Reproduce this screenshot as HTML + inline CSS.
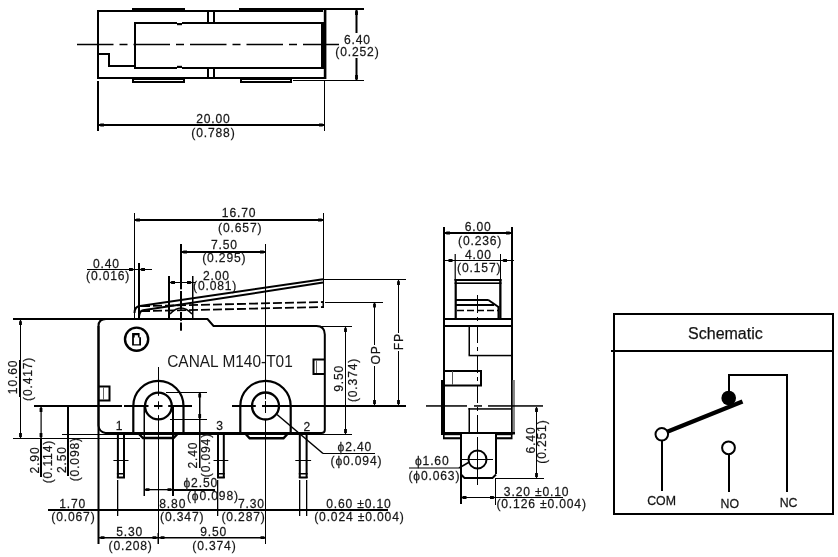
<!DOCTYPE html>
<html><head><meta charset="utf-8"><title>Switch drawing</title>
<style>
html,body{margin:0;padding:0;background:#fff;}
body{width:838px;height:557px;overflow:hidden;}
svg{display:block;filter:grayscale(1);}
text{font-family:"Liberation Sans",sans-serif;stroke:#222;stroke-width:0.25px;}
</style></head>
<body>
<svg width="838" height="557" viewBox="0 0 838 557">
<rect width="838" height="557" fill="#fff"/>
<rect x="97" y="10" width="2" height="69" fill="#000"/>
<rect x="97" y="10" width="225" height="2" fill="#000"/>
<rect x="132" y="8" width="53" height="4" fill="#000"/>
<rect x="239" y="8" width="84" height="4" fill="#000"/>
<rect x="322" y="8" width="42" height="2" fill="#000"/>
<rect x="97" y="77" width="229" height="2" fill="#000"/>
<rect x="323.8" y="8" width="2.6" height="71" fill="#000"/>
<rect x="321" y="22" width="3" height="47" fill="#000"/>
<rect x="134" y="22" width="2" height="47" fill="#000"/>
<rect x="134" y="22" width="187" height="2" fill="#000"/>
<rect x="134" y="67" width="187" height="2" fill="#000"/>
<rect x="97" y="53" width="13" height="2" fill="#000"/>
<rect x="108" y="53" width="2" height="14" fill="#000"/>
<rect x="108" y="65" width="27" height="2" fill="#000"/>
<rect x="207" y="12" width="2" height="10" fill="#000"/>
<rect x="207" y="69" width="2" height="8" fill="#000"/>
<rect x="213" y="12" width="2" height="10" fill="#000"/>
<rect x="213" y="69" width="2" height="8" fill="#000"/>
<rect x="177" y="22" width="5" height="1" fill="#fff"/>
<rect x="177" y="24" width="5" height="1.2" fill="#000"/>
<rect x="177" y="68" width="5" height="1" fill="#fff"/>
<rect x="177" y="65.8" width="5" height="1.2" fill="#000"/>
<rect x="132" y="79" width="53" height="4" fill="#000"/>
<rect x="134" y="80" width="49" height="1" fill="#fff"/>
<rect x="240" y="79" width="52" height="4" fill="#000"/>
<rect x="242" y="80" width="48" height="1" fill="#fff"/>
<rect x="293" y="80" width="71" height="1" fill="#000"/>
<line x1="77" y1="44.5" x2="339" y2="44.5" stroke="#000" stroke-width="1.3" stroke-linecap="butt" stroke-dasharray="36.5 6 8 6"/>
<rect x="355.5" y="10" width="2" height="23" fill="#000"/>
<rect x="355.5" y="58" width="2" height="22" fill="#000"/>
<polygon points="356.5,10 355.1,11.5 355.1,15 357.9,15 357.9,11.5" fill="#000"/>
<polygon points="356.5,80 355.1,78.5 355.1,75 357.9,75 357.9,78.5" fill="#000"/>
<text transform="translate(357.42 44.3) scale(0.89 1)" font-size="13.6" text-anchor="middle" fill="#111" letter-spacing="0.95">6.40</text>
<text transform="translate(357.42 55.9) scale(0.89 1)" font-size="13.6" text-anchor="middle" fill="#111" letter-spacing="0.95">(0.252)</text>
<rect x="97" y="81" width="2" height="50" fill="#000"/>
<rect x="324" y="81" width="1" height="50" fill="#000"/>
<rect x="97" y="124" width="228" height="2" fill="#000"/>
<polygon points="99,125 100.5,123.6 104,123.6 104,126.4 100.5,126.4" fill="#000"/>
<polygon points="324,125 322.5,123.6 319,123.6 319,126.4 322.5,126.4" fill="#000"/>
<text transform="translate(213.42 122.6) scale(0.89 1)" font-size="13.6" text-anchor="middle" fill="#111" letter-spacing="0.95">20.00</text>
<text transform="translate(213.42 137) scale(0.89 1)" font-size="13.6" text-anchor="middle" fill="#111" letter-spacing="0.95">(0.788)</text>
<rect x="134" y="213" width="1" height="105" fill="#000"/>
<rect x="323" y="213" width="1" height="95" fill="#000"/>
<rect x="134" y="219" width="190" height="2" fill="#000"/>
<polygon points="135,220 136.5,218.6 140,218.6 140,221.4 136.5,221.4" fill="#000"/>
<polygon points="323,220 321.5,218.6 318,218.6 318,221.4 321.5,221.4" fill="#000"/>
<text transform="translate(239.12 217) scale(0.89 1)" font-size="13.6" text-anchor="middle" fill="#111" letter-spacing="0.95">16.70</text>
<text transform="translate(240.22 231.5) scale(0.89 1)" font-size="13.6" text-anchor="middle" fill="#111" letter-spacing="0.95">(0.657)</text>
<rect x="180" y="244" width="2" height="45.3" fill="#000"/>
<rect x="180" y="291" width="2" height="18.7" fill="#000"/>
<rect x="180" y="312" width="2" height="8.8" fill="#000"/>
<rect x="180" y="322.5" width="2" height="8.2" fill="#000"/>
<rect x="181" y="251" width="85" height="2" fill="#000"/>
<polygon points="182,252 183.5,250.6 187,250.6 187,253.4 183.5,253.4" fill="#000"/>
<polygon points="265,252 263.5,250.6 260,250.6 260,253.4 263.5,253.4" fill="#000"/>
<text transform="translate(224.42 249.3) scale(0.89 1)" font-size="13.6" text-anchor="middle" fill="#111" letter-spacing="0.95">7.50</text>
<text transform="translate(224.32 262.2) scale(0.89 1)" font-size="13.6" text-anchor="middle" fill="#111" letter-spacing="0.95">(0.295)</text>
<rect x="87" y="269" width="65" height="1" fill="#000"/>
<rect x="138" y="263" width="2" height="55" fill="#000"/>
<polygon points="134,269.5 132.5,268.1 129,268.1 129,270.9 132.5,270.9" fill="#000"/>
<polygon points="140,269.5 141.5,268.1 145,268.1 145,270.9 141.5,270.9" fill="#000"/>
<text transform="translate(106.42 267.5) scale(0.89 1)" font-size="13.6" text-anchor="middle" fill="#111" letter-spacing="0.95">0.40</text>
<text transform="translate(108.12 279.9) scale(0.89 1)" font-size="13.6" text-anchor="middle" fill="#111" letter-spacing="0.95">(0.016)</text>
<rect x="169" y="282" width="27" height="1" fill="#000"/>
<rect x="168" y="276" width="2" height="42" fill="#000"/>
<rect x="192" y="276" width="1.5" height="42" fill="#000"/>
<polygon points="170,282.5 171.5,281.1 175,281.1 175,283.9 171.5,283.9" fill="#000"/>
<polygon points="192,282.5 190.5,281.1 187,281.1 187,283.9 190.5,283.9" fill="#000"/>
<text transform="translate(216.42 279.5) scale(0.89 1)" font-size="13.6" text-anchor="middle" fill="#111" letter-spacing="0.95">2.00</text>
<text transform="translate(215.12 290.3) scale(0.89 1)" font-size="13.6" text-anchor="middle" fill="#111" letter-spacing="0.95">(0.081)</text>
<path d="M170,314 Q181,302 192,314" stroke="#000" stroke-width="1.6" fill="none" />
<path d="M134.5,313 Q134.5,306.5 140,305.9 L323,279.3" stroke="#000" stroke-width="2" fill="none" />
<path d="M139,317 Q139.5,311 143,310.3 L323,282.6" stroke="#000" stroke-width="2" fill="none" />
<line x1="141" y1="306.2" x2="323" y2="302" stroke="#000" stroke-width="1.8" stroke-linecap="butt" stroke-dasharray="9 3"/>
<line x1="141" y1="311.2" x2="323" y2="307" stroke="#000" stroke-width="1.8" stroke-linecap="butt" stroke-dasharray="9 3"/>
<rect x="322.5" y="301" width="1.5" height="7" fill="#000"/>
<rect x="324" y="279" width="82" height="1" fill="#000"/>
<rect x="398" y="280" width="1" height="53" fill="#000"/>
<rect x="398" y="351" width="1" height="54" fill="#000"/>
<polygon points="398.5,280 397.1,281.5 397.1,285 399.9,285 399.9,281.5" fill="#000"/>
<polygon points="398.5,405 397.1,403.5 397.1,400 399.9,400 399.9,403.5" fill="#000"/>
<text transform="translate(403.1 341.58) rotate(-90) scale(0.89 1)" font-size="13.6" text-anchor="middle" fill="#111" letter-spacing="0.95">FP</text>
<rect x="325" y="302" width="58" height="1" fill="#000"/>
<rect x="374" y="302" width="1" height="43" fill="#000"/>
<rect x="374" y="366" width="1" height="39" fill="#000"/>
<polygon points="374.5,302.5 373.1,304 373.1,307.5 375.9,307.5 375.9,304" fill="#000"/>
<polygon points="374.5,405 373.1,403.5 373.1,400 375.9,400 375.9,403.5" fill="#000"/>
<text transform="translate(379.7 354.98) rotate(-90) scale(0.89 1)" font-size="13.6" text-anchor="middle" fill="#111" letter-spacing="0.95">OP</text>
<rect x="316" y="326" width="36" height="1" fill="#000"/>
<rect x="345" y="327" width="1" height="107" fill="#000"/>
<polygon points="345.5,327 344.1,328.5 344.1,332 346.9,332 346.9,328.5" fill="#000"/>
<polygon points="345.5,434 344.1,432.5 344.1,429 346.9,429 346.9,432.5" fill="#000"/>
<rect x="324" y="434" width="28" height="1" fill="#000"/>
<text transform="translate(343.3 378.38) rotate(-90) scale(0.89 1)" font-size="13.6" text-anchor="middle" fill="#111" letter-spacing="0.95">9.50</text>
<text transform="translate(356.7 379.98) rotate(-90) scale(0.89 1)" font-size="13.6" text-anchor="middle" fill="#111" letter-spacing="0.95">(0.374)</text>
<rect x="13" y="318" width="93" height="2" fill="#000"/>
<rect x="20" y="319" width="1" height="119" fill="#000"/>
<rect x="19" y="360" width="2" height="37" fill="#000"/>
<polygon points="20.5,320 19.1,321.5 19.1,325 21.9,325 21.9,321.5" fill="#000"/>
<polygon points="20.5,438 19.1,436.5 19.1,433 21.9,433 21.9,436.5" fill="#000"/>
<rect x="13" y="438" width="127" height="1" fill="#000"/>
<text transform="translate(16.7 376.88) rotate(-90) scale(0.89 1)" font-size="13.6" text-anchor="middle" fill="#111" letter-spacing="0.95">10.60</text>
<text transform="translate(32.4 378.88) rotate(-90) scale(0.89 1)" font-size="13.6" text-anchor="middle" fill="#111" letter-spacing="0.95">(0.417)</text>
<rect x="40.5" y="406" width="1.2" height="32" fill="#000"/>
<rect x="40" y="438" width="2" height="39" fill="#000"/>
<polygon points="41,407 39.6,408.5 39.6,412 42.4,412 42.4,408.5" fill="#000"/>
<polygon points="41,438 39.6,436.5 39.6,433 42.4,433 42.4,436.5" fill="#000"/>
<rect x="67" y="406" width="2" height="70" fill="#000"/>
<text transform="translate(38.5 459.98) rotate(-90) scale(0.89 1)" font-size="13.6" text-anchor="middle" fill="#111" letter-spacing="0.95">2.90</text>
<text transform="translate(51.8 461.58) rotate(-90) scale(0.89 1)" font-size="13.6" text-anchor="middle" fill="#111" letter-spacing="0.95">(0.114)</text>
<text transform="translate(65.9 459.58) rotate(-90) scale(0.89 1)" font-size="13.6" text-anchor="middle" fill="#111" letter-spacing="0.95">2.50</text>
<text transform="translate(79.2 459.18) rotate(-90) scale(0.89 1)" font-size="13.6" text-anchor="middle" fill="#111" letter-spacing="0.95">(0.098)</text>
<rect x="62" y="434" width="290" height="1" fill="#000"/>
<path d="M98.5,326 Q98.5,319 106,319 L207.5,319 L213.5,326 L316.5,326 Q324.8,326 324.8,334.5 L324.8,430 Q324.8,433 321.5,433 L105.5,433 Q99,432 98.5,425.5 Z" stroke="#000" stroke-width="2" fill="none" />
<rect x="97.5" y="326" width="2" height="218" fill="#000"/>
<path d="M98.5,386.5 L109.5,386.5 L109.5,400.5 L98.5,400.5" stroke="#000" stroke-width="2" fill="none" />
<rect x="103" y="387" width="1" height="13" fill="#666"/>
<path d="M324.5,359.5 L313.5,359.5 L313.5,374 L324.5,374" stroke="#000" stroke-width="2" fill="none" />
<rect x="316" y="360" width="1" height="13" fill="#666"/>
<circle cx="136.6" cy="339.2" r="11.6" stroke="#000" stroke-width="2.4" fill="none"/>
<path d="M132.1,332.9 L139.6,332.9 L139.6,337.3 L141,337.3 L141,345.6 L132.1,345.6 Z" fill="#000"/>
<path d="M134.7,335.2 L137.9,335.2 L137.9,337.6 L139.2,337.6 L139.2,344.3 L133.9,344.3 L133.9,337.6 L134.7,337.6 Z" fill="#fff"/>
<text transform="translate(230 367) scale(0.99 1)" font-size="15.6" text-anchor="middle" fill="#1a1a1a" style="stroke-width:0px">CANAL M140-T01</text>
<path d="M133.3,433 L133.3,406 A25.1,25.1 0 0 1 183.5,406 L183.5,433" stroke="#000" stroke-width="2.2" fill="none" />
<circle cx="158.4" cy="406" r="13.4" stroke="#000" stroke-width="2.3" fill="#fff"/>
<path d="M240.3,433 L240.3,406 A25.2,25.2 0 0 1 290.7,406 L290.7,433" stroke="#000" stroke-width="2.2" fill="none" />
<circle cx="265.5" cy="406" r="13.5" stroke="#000" stroke-width="2.3" fill="#fff"/>
<rect x="34" y="405" width="88" height="2" fill="#000"/>
<rect x="124" y="405" width="24.5" height="2" fill="#000"/>
<rect x="154" y="405" width="8.5" height="2" fill="#000"/>
<rect x="168.2" y="405" width="23.8" height="2" fill="#000"/>
<rect x="232" y="405" width="23.8" height="2" fill="#000"/>
<rect x="262" y="405" width="144" height="2" fill="#000"/>
<rect x="158" y="367" width="1" height="28.8" fill="#000"/>
<rect x="158" y="401.3" width="1" height="8" fill="#000"/>
<rect x="158" y="415.1" width="1" height="128.9" fill="#000"/>
<rect x="265" y="244" width="1" height="155.3" fill="#000"/>
<rect x="265" y="401" width="1" height="12" fill="#000"/>
<rect x="265" y="419" width="1" height="125" fill="#000"/>
<rect x="143.5" y="406" width="1.5" height="90" fill="#000"/>
<rect x="172" y="406" width="2" height="90" fill="#000"/>
<path d="M138,433 L143,438 L173.5,438 L178.5,433" stroke="#000" stroke-width="2.4" fill="none" />
<path d="M244.8,433 L249.6,438.3 L283.5,438.3 L288.4,433" stroke="#000" stroke-width="2.4" fill="none" />
<rect x="116.9" y="435" width="2" height="43" fill="#000"/>
<rect x="123" y="435" width="2" height="43" fill="#000"/>
<rect x="116.9" y="476.5" width="8.1" height="2" fill="#000"/>
<rect x="116.9" y="473" width="8.1" height="1.5" fill="#000"/>
<rect x="113.4" y="460" width="15.1" height="1" fill="#000"/>
<rect x="117" y="480" width="1.3" height="36" fill="#000"/>
<rect x="217" y="435" width="2" height="43" fill="#000"/>
<rect x="222.8" y="435" width="2" height="43" fill="#000"/>
<rect x="217" y="476.5" width="7.8" height="2" fill="#000"/>
<rect x="217" y="473" width="7.8" height="1.5" fill="#000"/>
<rect x="213.5" y="460" width="14.8" height="1" fill="#000"/>
<rect x="217" y="480" width="1.3" height="36" fill="#000"/>
<rect x="298.8" y="435" width="2" height="43" fill="#000"/>
<rect x="305.6" y="435" width="2" height="43" fill="#000"/>
<rect x="298.8" y="476.5" width="8.8" height="2" fill="#000"/>
<rect x="298.8" y="473" width="8.8" height="1.5" fill="#000"/>
<rect x="295.3" y="460" width="15.8" height="1" fill="#000"/>
<rect x="299" y="480" width="1.3" height="36" fill="#000"/>
<rect x="306" y="480" width="1.3" height="36" fill="#000"/>
<text transform="translate(119.62 430.4) scale(0.89 1)" font-size="13.6" text-anchor="middle" fill="#111" letter-spacing="0.95">1</text>
<text transform="translate(219.92 430.1) scale(0.89 1)" font-size="13.6" text-anchor="middle" fill="#111" letter-spacing="0.95">3</text>
<text transform="translate(307.22 430.5) scale(0.89 1)" font-size="13.6" text-anchor="middle" fill="#111" letter-spacing="0.95">2</text>
<rect x="166" y="392" width="41" height="1" fill="#000"/>
<rect x="170" y="419" width="37" height="1" fill="#000"/>
<rect x="199" y="392" width="1.5" height="76" fill="#000"/>
<polygon points="199.7,392.5 198.3,394 198.3,397.5 201.1,397.5 201.1,394" fill="#000"/>
<polygon points="199.7,419 198.3,417.5 198.3,414 201.1,414 201.1,417.5" fill="#000"/>
<text transform="translate(197.3 455.08) rotate(-90) scale(0.89 1)" font-size="13.6" text-anchor="middle" fill="#111" letter-spacing="0.95">2.40</text>
<text transform="translate(209.8 455.08) rotate(-90) scale(0.89 1)" font-size="13.6" text-anchor="middle" fill="#111" letter-spacing="0.95">(0.094)</text>
<rect x="144" y="489" width="28" height="1.3" fill="#000"/>
<rect x="172" y="489" width="43" height="2" fill="#000"/>
<polygon points="144.5,489.7 146,488.3 149.5,488.3 149.5,491.1 146,491.1" fill="#000"/>
<polygon points="172.5,489.7 171,488.3 167.5,488.3 167.5,491.1 171,491.1" fill="#000"/>
<text transform="translate(183.5 486.5) scale(0.89 1)" font-size="13.6" text-anchor="start" fill="#111" letter-spacing="0.95">ϕ2.50</text>
<text transform="translate(187 499.5) scale(0.89 1)" font-size="13.6" text-anchor="start" fill="#111" letter-spacing="0.95">(ϕ0.098)</text>
<line x1="277" y1="414.5" x2="323" y2="453.5" stroke="#000" stroke-width="1.5" stroke-linecap="butt"/>
<rect x="323" y="453" width="52" height="1" fill="#000"/>
<text transform="translate(354.82 450.6) scale(0.89 1)" font-size="13.6" text-anchor="middle" fill="#111" letter-spacing="0.95">ϕ2.40</text>
<text transform="translate(356.42 464.5) scale(0.89 1)" font-size="13.6" text-anchor="middle" fill="#111" letter-spacing="0.95">(ϕ0.094)</text>
<rect x="48" y="509" width="340" height="2" fill="#000"/>
<text transform="translate(72.62 507.5) scale(0.89 1)" font-size="13.6" text-anchor="middle" fill="#111" letter-spacing="0.95">1.70</text>
<text transform="translate(73.42 520.6) scale(0.89 1)" font-size="13.6" text-anchor="middle" fill="#111" letter-spacing="0.95">(0.067)</text>
<text transform="translate(159.3 508) scale(0.89 1)" font-size="13.6" text-anchor="start" fill="#111" letter-spacing="0.95">8.80</text>
<text transform="translate(160.1 520.6) scale(0.89 1)" font-size="13.6" text-anchor="start" fill="#111" letter-spacing="0.95">(0.347)</text>
<text transform="translate(264.85 507.5) scale(0.89 1)" font-size="13.6" text-anchor="end" fill="#111" letter-spacing="0.95">7.30</text>
<text transform="translate(265.65 520.6) scale(0.89 1)" font-size="13.6" text-anchor="end" fill="#111" letter-spacing="0.95">(0.287)</text>
<text transform="translate(358.92 507.5) scale(0.89 1)" font-size="13.6" text-anchor="middle" fill="#111" letter-spacing="0.95">0.60 ±0.10</text>
<text transform="translate(359.42 521.1) scale(0.89 1)" font-size="13.6" text-anchor="middle" fill="#111" letter-spacing="0.95">(0.024 ±0.004)</text>
<rect x="98" y="537" width="168" height="1.5" fill="#000"/>
<rect x="157.5" y="533" width="1.5" height="11" fill="#000"/>
<polygon points="99.5,537.7 101,536.3 104.5,536.3 104.5,539.1 101,539.1" fill="#000"/>
<polygon points="157.5,537.7 156,536.3 152.5,536.3 152.5,539.1 156,539.1" fill="#000"/>
<polygon points="159.5,537.7 161,536.3 164.5,536.3 164.5,539.1 161,539.1" fill="#000"/>
<polygon points="265.5,537.7 264,536.3 260.5,536.3 260.5,539.1 264,539.1" fill="#000"/>
<text transform="translate(129.62 535.6) scale(0.89 1)" font-size="13.6" text-anchor="middle" fill="#111" letter-spacing="0.95">5.30</text>
<text transform="translate(130.62 550.1) scale(0.89 1)" font-size="13.6" text-anchor="middle" fill="#111" letter-spacing="0.95">(0.208)</text>
<text transform="translate(213.62 535.6) scale(0.89 1)" font-size="13.6" text-anchor="middle" fill="#111" letter-spacing="0.95">9.50</text>
<text transform="translate(214.42 550.1) scale(0.89 1)" font-size="13.6" text-anchor="middle" fill="#111" letter-spacing="0.95">(0.374)</text>
<rect x="443" y="227" width="2" height="207" fill="#000"/>
<rect x="511" y="227" width="2" height="207" fill="#000"/>
<rect x="441" y="380" width="4" height="55" fill="#000"/>
<rect x="512" y="380" width="3" height="55" fill="#888"/>
<rect x="511" y="380" width="1.5" height="55" fill="#000"/>
<rect x="443" y="232" width="70" height="2" fill="#000"/>
<polygon points="445,233 446.5,231.6 450,231.6 450,234.4 446.5,234.4" fill="#000"/>
<polygon points="511,233 509.5,231.6 506,231.6 506,234.4 509.5,234.4" fill="#000"/>
<text transform="translate(478.22 231) scale(0.89 1)" font-size="13.6" text-anchor="middle" fill="#111" letter-spacing="0.95">6.00</text>
<text transform="translate(480.12 244.5) scale(0.89 1)" font-size="13.6" text-anchor="middle" fill="#111" letter-spacing="0.95">(0.236)</text>
<rect x="454.6" y="254" width="1.2" height="26" fill="#000"/>
<rect x="500" y="254" width="1" height="26" fill="#000"/>
<rect x="444" y="260" width="70" height="1" fill="#000"/>
<polygon points="453.5,260.5 452,259.1 448.5,259.1 448.5,261.9 452,261.9" fill="#000"/>
<polygon points="502,260.5 503.5,259.1 507,259.1 507,261.9 503.5,261.9" fill="#000"/>
<text transform="translate(478.42 259) scale(0.89 1)" font-size="13.6" text-anchor="middle" fill="#111" letter-spacing="0.95">4.00</text>
<text transform="translate(479.22 271.9) scale(0.89 1)" font-size="13.6" text-anchor="middle" fill="#111" letter-spacing="0.95">(0.157)</text>
<rect x="454.6" y="279" width="2.2" height="40" fill="#000"/>
<rect x="499.2" y="279" width="2.3" height="40" fill="#000"/>
<rect x="454.6" y="279" width="46.9" height="2" fill="#000"/>
<rect x="454.6" y="282.4" width="46.9" height="1.6" fill="#000"/>
<rect x="456" y="299" width="32" height="2" fill="#000"/>
<line x1="488" y1="299.8" x2="498.5" y2="307" stroke="#000" stroke-width="2" stroke-linecap="butt"/>
<rect x="456" y="304" width="38" height="2" fill="#000"/>
<rect x="497.5" y="306" width="2" height="12" fill="#000"/>
<line x1="457" y1="310.5" x2="498" y2="310.5" stroke="#000" stroke-width="1.5" stroke-linecap="butt" stroke-dasharray="7 3"/>
<rect x="443" y="318" width="70" height="2" fill="#000"/>
<rect x="443" y="325" width="70" height="2" fill="#000"/>
<line x1="477.5" y1="295" x2="477.5" y2="485" stroke="#000" stroke-width="1" stroke-linecap="butt" stroke-dasharray="18 4 4 4"/>
<rect x="468.5" y="327" width="1.5" height="28" fill="#000"/>
<rect x="468.5" y="354.8" width="42.5" height="1.5" fill="#000"/>
<path d="M444,371 L481,371 L481,385.5 L444,385.5" stroke="#000" stroke-width="2" fill="none" />
<rect x="452" y="371" width="1" height="14" fill="#555"/>
<rect x="426" y="405.2" width="41" height="1.5" fill="#000"/>
<rect x="474" y="405.2" width="8" height="1.5" fill="#000"/>
<rect x="488" y="405.2" width="55" height="1.5" fill="#000"/>
<rect x="468.5" y="408" width="1.5" height="25" fill="#000"/>
<rect x="468.5" y="408.2" width="42.5" height="1.5" fill="#000"/>
<rect x="441" y="432" width="74" height="2" fill="#000"/>
<rect x="443" y="434" width="17" height="5.3" fill="#000"/>
<rect x="444.6" y="435.2" width="15.4" height="2" fill="#fff"/>
<rect x="495.5" y="434" width="17" height="5.3" fill="#000"/>
<rect x="496.5" y="435.2" width="14.4" height="2" fill="#fff"/>
<rect x="460" y="433" width="2" height="71" fill="#000"/>
<rect x="495" y="433" width="2" height="41" fill="#000"/>
<path d="M461,474.5 L464.5,478 L492.5,478 L496,474.5" stroke="#000" stroke-width="2" fill="none" />
<circle cx="477.5" cy="459.5" r="9" stroke="#000" stroke-width="2" fill="none"/>
<rect x="477" y="440" width="1" height="44" fill="#000"/>
<rect x="462" y="459" width="31" height="1" fill="#000"/>
<rect x="409" y="467.5" width="50" height="1" fill="#000"/>
<line x1="459" y1="468" x2="468.5" y2="462.5" stroke="#000" stroke-width="1.5" stroke-linecap="butt"/>
<text transform="translate(432.22 464.6) scale(0.89 1)" font-size="13.6" text-anchor="middle" fill="#111" letter-spacing="0.95">ϕ1.60</text>
<text transform="translate(434.32 480) scale(0.89 1)" font-size="13.6" text-anchor="middle" fill="#111" letter-spacing="0.95">(ϕ0.063)</text>
<rect x="536" y="407" width="1" height="71" fill="#000"/>
<polygon points="536.5,407 535.1,408.5 535.1,412 537.9,412 537.9,408.5" fill="#000"/>
<polygon points="536.5,478 535.1,476.5 535.1,473 537.9,473 537.9,476.5" fill="#000"/>
<rect x="495" y="478" width="49" height="1" fill="#000"/>
<text transform="translate(535.4 439.98) rotate(-90) scale(0.89 1)" font-size="13.6" text-anchor="middle" fill="#111" letter-spacing="0.95">6.40</text>
<text transform="translate(546 441.58) rotate(-90) scale(0.89 1)" font-size="13.6" text-anchor="middle" fill="#111" letter-spacing="0.95">(0.251)</text>
<rect x="495" y="478" width="1" height="27" fill="#000"/>
<rect x="460" y="497" width="103" height="1" fill="#000"/>
<polygon points="461.5,497.5 463,496.1 466.5,496.1 466.5,498.9 463,498.9" fill="#000"/>
<polygon points="495,497.5 493.5,496.1 490,496.1 490,498.9 493.5,498.9" fill="#000"/>
<text transform="translate(536.62 495.8) scale(0.89 1)" font-size="13.6" text-anchor="middle" fill="#111" letter-spacing="0.95">3.20 ±0.10</text>
<text transform="translate(541.62 507.5) scale(0.89 1)" font-size="13.6" text-anchor="middle" fill="#111" letter-spacing="0.95">(0.126 ±0.004)</text>
<path d="M614,314 L833,314 L833,514 L614,514 Z" stroke="#000" stroke-width="2" fill="none" />
<rect x="611" y="350" width="223" height="2" fill="#000"/>
<text transform="translate(725.4 338.8) scale(1 1)" font-size="16" text-anchor="middle" fill="#111">Schematic</text>
<path d="M729,391 L729,375 L787,375 L787,492" stroke="#000" stroke-width="2" fill="none" />
<circle cx="728.7" cy="398" r="7.3" fill="#000"/>
<line x1="666" y1="432.2" x2="742.5" y2="401.5" stroke="#000" stroke-width="4.3" stroke-linecap="butt"/>
<circle cx="661.8" cy="434.3" r="6.3" stroke="#000" stroke-width="2" fill="#fff"/>
<rect x="661" y="441" width="2" height="50" fill="#000"/>
<circle cx="728.5" cy="447.8" r="6.4" stroke="#000" stroke-width="2" fill="#fff"/>
<rect x="728" y="455" width="2" height="37" fill="#000"/>
<text transform="translate(661.6 505) scale(0.95 1)" font-size="13" text-anchor="middle" fill="#111">COM</text>
<text transform="translate(729.8 508.2) scale(0.95 1)" font-size="13" text-anchor="middle" fill="#111">NO</text>
<text transform="translate(788.6 507) scale(0.95 1)" font-size="13" text-anchor="middle" fill="#111">NC</text>
</svg>
</body></html>
